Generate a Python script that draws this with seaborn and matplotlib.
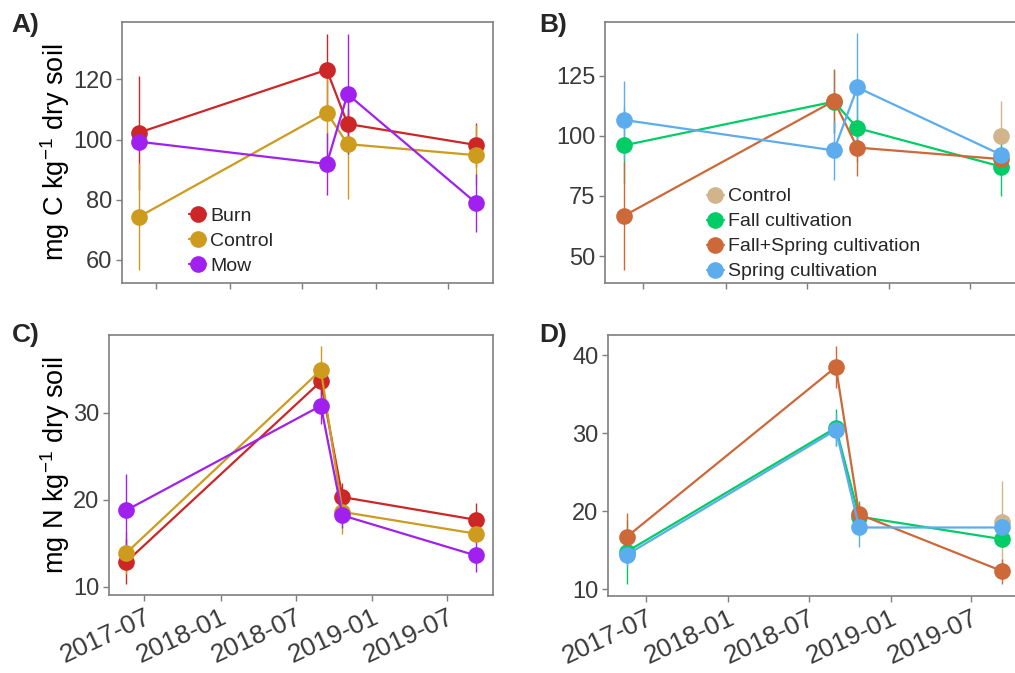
import numpy as np
import pandas as pd
import matplotlib
matplotlib.use("Agg")
import matplotlib.pyplot as plt
import matplotlib.dates as mdates
from matplotlib.lines import Line2D
import seaborn as sns

# ---- data -------------------------------------------------------------
dates = ["2017-05-19", "2018-08-31", "2018-10-22", "2019-09-08"]

# Panel A: soil C by burn / mow treatment
burn_treatments = ["Burn", "Control", "Mow"]
burn_c_mean = {"Burn": [102.3, 123.2, 105.2, 98.2],
               "Control": [74.3, 109.0, 98.5, 94.8],
               "Mow": [99.3, 91.9, 115.1, 78.9]}
burn_c_se = {"Burn": [19.0, 12.0, 5.0, 7.3],
             "Control": [17.8, 16.0, 18.3, 10.0],
             "Mow": [3.0, 10.3, 20.0, 9.7]}

# Panel B: soil C by cultivation treatment
cult_treatments = ["Control", "Fall cultivation", "Fall+Spring cultivation",
                   "Spring cultivation"]
cult_c_mean = {"Control": [np.nan, np.nan, np.nan, 100.1],
               "Fall cultivation": [96.0, 114.2, 103.2, 87.2],
               "Fall+Spring cultivation": [66.7, 114.5, 95.1, 90.3],
               "Spring cultivation": [106.6, 93.9, 120.1, 92.1]}
cult_c_se = {"Control": [np.nan, np.nan, np.nan, 14.5],
             "Fall cultivation": [16.0, 13.0, 14.0, 12.2],
             "Fall+Spring cultivation": [22.6, 13.2, 12.0, 3.0],
             "Spring cultivation": [16.2, 12.2, 22.5, 3.0]}

# Panel C: soil N by burn / mow treatment
burn_n_mean = {"Burn": [12.87, 33.6, 20.3, 17.7],
               "Control": [13.9, 34.9, 18.6, 16.1],
               "Mow": [18.8, 30.8, 18.2, 13.6]}
burn_n_se = {"Burn": [2.6, 2.0, 1.6, 1.9],
             "Control": [2.4, 2.8, 2.5, 1.0],
             "Mow": [4.1, 2.1, 1.5, 1.9]}

# Panel D: soil N by cultivation treatment
cult_n_mean = {"Control": [np.nan, np.nan, np.nan, 18.6],
               "Fall cultivation": [14.8, 30.7, 19.3, 16.4],
               "Fall+Spring cultivation": [16.7, 38.5, 19.6, 12.3],
               "Spring cultivation": [14.4, 30.4, 17.9, 17.9]}
cult_n_se = {"Control": [np.nan, np.nan, np.nan, 5.3],
             "Fall cultivation": [4.1, 2.4, 2.0, 1.0],
             "Fall+Spring cultivation": [3.1, 2.7, 1.5, 1.6],
             "Spring cultivation": [1.5, 2.1, 2.5, 1.0]}

burn_colors = {"Burn": "#CD2626", "Control": "#CD9B1D", "Mow": "#A020F0"}
cult_colors = {"Control": "#D2B48C", "Fall cultivation": "#00CD66",
               "Fall+Spring cultivation": "#CD6839",
               "Spring cultivation": "#5CACEE"}

# ---- style ------------------------------------------------------------
sns.set_style("white")
plt.rcParams["font.family"] = ["Liberation Sans", "DejaVu Sans"]
plt.rcParams["mathtext.fontset"] = "custom"
plt.rcParams["mathtext.rm"] = "Liberation Sans"
plt.rcParams["mathtext.it"] = "Liberation Sans"

W, H = 1015, 673
fig = plt.figure(figsize=(W / 100, H / 100), dpi=100)


def add_axes_px(left, top, right, bottom):
    return fig.add_axes([left / W, 1 - bottom / H, (right - left) / W,
                         (bottom - top) / H])


def to_frame(means, ses, order):
    rows = []
    for t in order:
        for d, m, s in zip(dates, means[t], ses[t]):
            rows.append({"date": pd.Timestamp(d), "treatment": t,
                         "value": m, "se": s})
    return pd.DataFrame(rows)


dt = pd.to_datetime(dates)
span = dt.max() - dt.min()
xlim = (dt.min() - 0.05 * span, dt.max() + 0.05 * span)

tick_col = "#3A3A3A"
frame_col = "#7F7F7F"


def draw_panel(ax, df, order, colors, ylim, yticks, ylabel, label_x,
               show_x, legend):
    for t in order:
        sub = df[df.treatment == t].dropna(subset=["value"])
        ax.vlines(sub.date, sub.value - sub.se, sub.value + sub.se,
                  colors=colors[t], linewidth=1.0, zorder=1)
    sns.lineplot(data=df.dropna(subset=["value"]), x="date", y="value",
                 hue="treatment", hue_order=order, palette=colors,
                 marker="o", markersize=12, markeredgewidth=0,
                 linewidth=1.6, legend=False, ax=ax, zorder=2)
    ax.set_xlim(xlim)
    ax.set_ylim(ylim)
    ax.set_yticks(yticks)
    ax.xaxis.set_major_locator(mdates.MonthLocator(bymonth=[1, 7]))
    ax.xaxis.set_major_formatter(mdates.DateFormatter("%Y-%m"))
    ax.set_xlabel("")
    ax.set_ylabel(ylabel, fontsize=19.5, color="black")
    if ylabel:
        ax.yaxis.set_label_coords(label_x, 0.5)
    ax.tick_params(axis="both", direction="out", length=4, width=1,
                   color=frame_col, labelsize=17, labelcolor=tick_col,
                   left=True, bottom=True, pad=3)
    ax.tick_params(axis="x", labelsize=19)
    if show_x:
        for lab in ax.get_xticklabels():
            lab.set_rotation(25)
            lab.set_ha("right")
            lab.set_va("top")
            lab.set_rotation_mode("anchor")
    else:
        ax.set_xticklabels([])
    for sp in ax.spines.values():
        sp.set_color(frame_col)
        sp.set_linewidth(1.2)
    if legend is not None:
        handles = [Line2D([], [], color=colors[t], marker="o", markersize=12,
                          markeredgewidth=0, linewidth=1.6) for t in order]
        ax.legend(handles, order, loc="lower left", bbox_to_anchor=legend,
                  frameon=False, fontsize=14, handlelength=0.9,
                  handletextpad=0.2, labelspacing=0.38, borderpad=0,
                  borderaxespad=0)


axA = add_axes_px(122, 22, 493, 283)
axB = add_axes_px(605, 22, 1020, 283)
axC = add_axes_px(109, 335, 493, 595)
axD = add_axes_px(608, 335, 1021, 596)

ylab_c = r"mg C kg$^{-1}$ dry soil"
ylab_n = r"mg N kg$^{-1}$ dry soil"

draw_panel(axA, to_frame(burn_c_mean, burn_c_se, burn_treatments),
           burn_treatments, burn_colors, (52.3, 139.1), [60, 80, 100, 120],
           ylab_c, -0.136, False, (0.18, 0.03))
draw_panel(axB, to_frame(cult_c_mean, cult_c_se, cult_treatments),
           cult_treatments, cult_colors, (38.8, 147.3), [50, 75, 100, 125],
           "", 0, False, (0.245, 0.01))
draw_panel(axC, to_frame(burn_n_mean, burn_n_se, burn_treatments),
           burn_treatments, burn_colors, (9.05, 38.93), [10, 20, 30],
           ylab_n, -0.097, True, None)
draw_panel(axD, to_frame(cult_n_mean, cult_n_se, cult_treatments),
           cult_treatments, cult_colors, (9.11, 42.6), [10, 20, 30, 40],
           "", 0, True, None)

for lab, x, y in [("A)", 11, 13), ("B)", 539, 13), ("C)", 12, 323),
                  ("D)", 539, 323)]:
    fig.text(x / W, 1 - y / H, lab, fontsize=19, fontweight="bold",
             ha="left", va="top")

fig.savefig("out.png", dpi=100)
